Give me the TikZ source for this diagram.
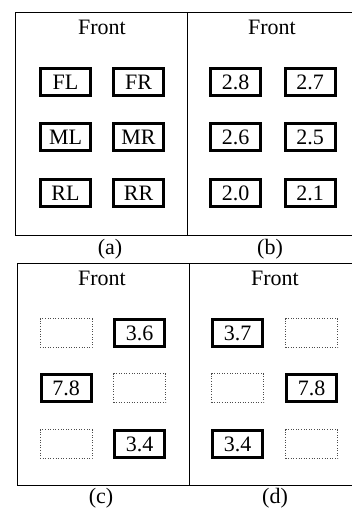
\documentclass[tikz,border=0pt]{standalone}
\usepackage{fontspec}
\setmainfont{Liberation Serif}
\begin{document}
\begin{tikzpicture}[x=1pt,y=-1pt,
  every node/.style={font=\fontsize{22}{22}\selectfont, inner sep=0pt},
  panel/.style={draw=black, line width=0.9pt},
  cell/.style={draw=black, line width=3pt, minimum width=50pt, minimum height=27pt, fill=white},
  empty/.style={draw=black!70, line width=0.6pt, dotted, minimum width=52pt, minimum height=29pt},
  heading/.style={anchor=center},
  caption/.style={anchor=center}]
\useasboundingbox (0,0) rectangle (352,511);
% frames
\draw[panel] (352,12.5) -- (15,12.5) -- (15,235) -- (352,235);
\draw[panel] (187,12.5) -- (187,235);
\draw[panel] (352,263) -- (17,263) -- (17,485) -- (352,485);
\draw[panel] (189,263) -- (189,485);
% headings
\node[heading] (ha) at (102,27) {Front};
\node[heading] (hb) at (272,27) {Front};
\node[heading] (hc) at (102,278) {Front};
\node[heading] (hd) at (275,278) {Front};
% captions
\node[caption] (ca) at (110,249) {(a)};
\node[caption] (cb) at (270,249) {(b)};
\node[caption] (cc) at (101,498) {(c)};
\node[caption] (cd) at (275,498) {(d)};
% panel a
\node[cell] (fl) at (65.5,82) {FL};
\node[cell] (fr) at (138.5,82) {FR};
\node[cell] (ml) at (65.5,137) {ML};
\node[cell] (mr) at (138.5,137) {MR};
\node[cell] (rl) at (65.5,193) {RL};
\node[cell] (rr) at (138.5,193) {RR};
% panel b
\node[cell] (b1) at (235.5,82) {2.8};
\node[cell] (b2) at (310,82) {2.7};
\node[cell] (b3) at (235.5,137) {2.6};
\node[cell] (b4) at (310,137) {2.5};
\node[cell] (b5) at (235.5,193) {2.0};
\node[cell] (b6) at (310,193) {2.1};
% panel c
\node[empty] (c1) at (66,333) {};
\node[cell] (c2) at (139.5,333) {3.6};
\node[cell] (c3) at (66,388) {7.8};
\node[empty] (c4) at (139.5,388) {};
\node[empty] (c5) at (66,444) {};
\node[cell] (c6) at (139.5,444) {3.4};
% panel d
\node[cell] (d1) at (237.5,333) {3.7};
\node[empty] (d2) at (311.5,333) {};
\node[empty] (d3) at (237.5,388) {};
\node[cell] (d4) at (311.5,388) {7.8};
\node[cell] (d5) at (237.5,444) {3.4};
\node[empty] (d6) at (311.5,444) {};
\end{tikzpicture}
\end{document}
